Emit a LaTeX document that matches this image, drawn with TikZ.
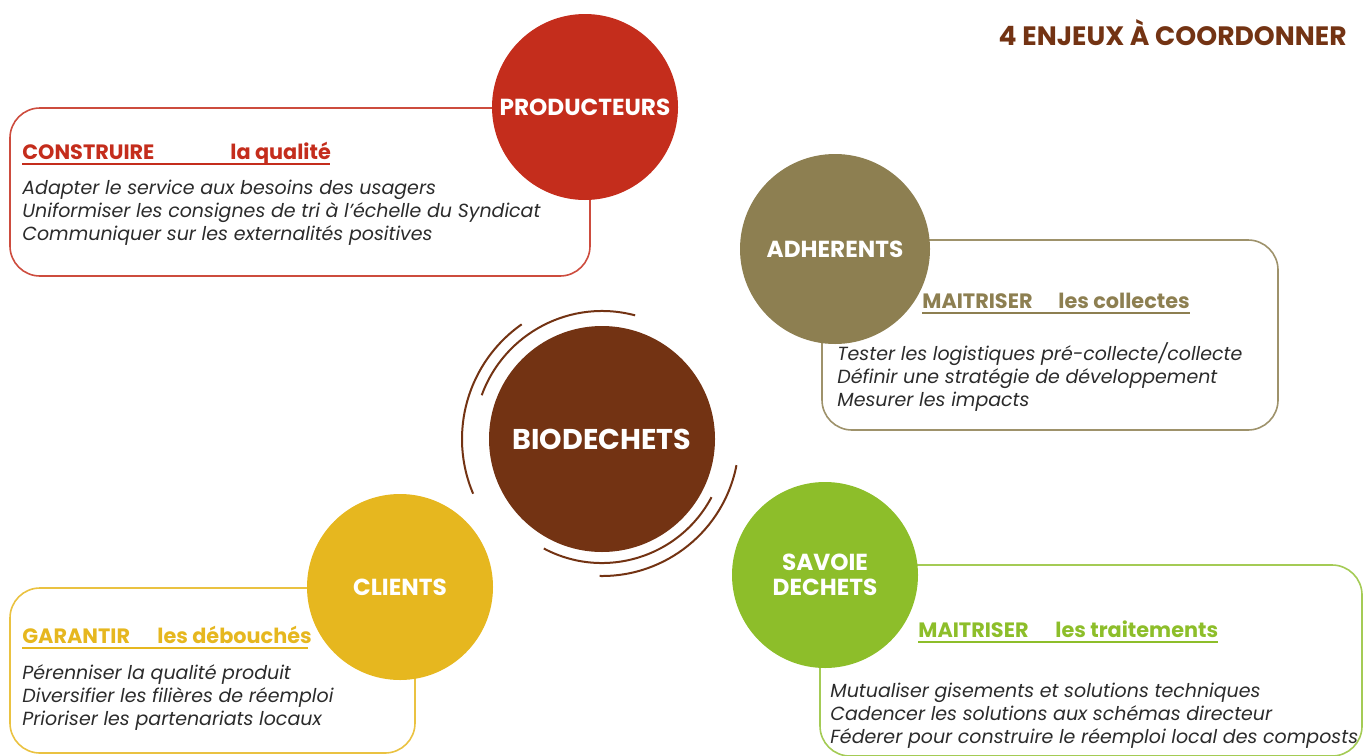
\documentclass[tikz,border=0pt]{standalone}
\usepackage{fontspec}
\setmainfont{Poppins}
\definecolor{prodred}{HTML}{C42D1C}
\definecolor{adhgold}{HTML}{8D7F51}
\definecolor{biobrown}{HTML}{733313}
\definecolor{cliyellow}{HTML}{E6B71F}
\definecolor{savgreen}{HTML}{8DBE2A}
\definecolor{textgrey}{HTML}{2B2B2B}
\begin{document}
\begin{tikzpicture}[x=0.5pt,y=-0.5pt,
	disc/.style={circle,fill=#1,text=white,inner sep=0pt,minimum size=93pt,align=center,
		font=\fontsize{11.6}{13.5}\selectfont\bfseries},
	cadre/.style={draw=#1,line width=0.8pt,rounded corners=15pt},
	titre/.style={anchor=base west,inner sep=0pt,text=#1,font=\fontsize{10.4}{12}\selectfont\bfseries},
	texte/.style={anchor=base west,inner sep=0pt,text=textgrey,align=left,
		font=\fontsize{9.5}{11.5}\selectfont\itshape}]
		\useasboundingbox (0,0) rectangle (1363,755);
		%Cadres
		\draw[cadre=prodred!85] (10,108) rectangle (590,276);
		\draw[cadre=adhgold!85] (822,240) rectangle (1278,430);
		\draw[cadre=cliyellow!85] (10,588) rectangle (415,753);
		\draw[cadre=savgreen!80] (820,565) rectangle (1362,756);
		%Disques
		\node[disc=prodred] (prod) at (585,107) {PRODUCTEURS};
		\node[disc=adhgold,minimum size=95pt] (adh) at (835,249) {ADHERENTS};
		\node[disc=cliyellow] (cli) at (400,587) {CLIENTS};
		\node[disc=savgreen] (sav) at (825,575) {SAVOIE\\[-1pt]DECHETS};
		\node[disc=biobrown,minimum size=113pt,font=\fontsize{14.3}{16}\selectfont\bfseries] (bio) at (602,439) {BIODECHETS};
		\draw[biobrown,line width=1pt] (bio.center) ++(-125:140) arc[start angle=-125,end angle=-203,radius=140];
		\draw[biobrown,line width=1pt] (bio.center) ++(-75:128) arc[start angle=-75,end angle=-160,radius=128];
		\draw[biobrown,line width=1pt] (bio.center) ++(11:137) arc[start angle=11,end angle=91,radius=137];
		\draw[biobrown,line width=1pt] (bio.center) ++(28:124) arc[start angle=28,end angle=118,radius=124];
		\node[anchor=base east,inner sep=0pt,text=biobrown,font=\fontsize{13.3}{15}\selectfont\bfseries]
			(enjeux) at (1347,45) {4 ENJEUX À COORDONNER};
		%Producteurs
		\node[titre=prodred] (prodA) at (22,159) {CONSTRUIRE};
		\node[titre=prodred] (prodB) at (230,159) {la qualité};
		\draw[prodred,line width=0.8pt] ([yshift=-2.5pt]prodA.base west) -- ([yshift=-2.5pt]prodB.base west -| 330,0);
		\node[texte] (prodT) at (22,240) {Adapter le service aux besoins des usagers\\
			Uniformiser les consignes de tri à l’échelle du Syndicat\\
			Communiquer sur les externalités positives};
		%Adherents
		\node[titre=adhgold] (adhA) at (922,308) {MAITRISER};
		\node[titre=adhgold] (adhB) at (1058,308) {les collectes};
		\draw[adhgold,line width=0.8pt] ([yshift=-2.5pt]adhA.base west) -- ([yshift=-2.5pt]adhB.base west -| 1190,0);
		\node[texte] (adhT) at (837,406) {Tester les logistiques pré-collecte/collecte\\
			Définir une stratégie de développement\\
			Mesurer les impacts};
		%Clients
		\node[titre=cliyellow] (cliA) at (22,643) {GARANTIR};
		\node[titre=cliyellow] (cliB) at (157,643) {les débouchés};
		\draw[cliyellow,line width=0.8pt] ([yshift=-2.5pt]cliA.base west) -- ([yshift=-2.5pt]cliB.base west -| 308,0);
		\node[texte] (cliT) at (22,725) {Pérenniser la qualité produit\\
			Diversifier les filières de réemploi\\
			Prioriser les partenariats locaux};
		%Savoie dechets
		\node[titre=savgreen] (savA) at (918,637) {MAITRISER};
		\node[titre=savgreen] (savB) at (1055,637) {les traitements};
		\draw[savgreen,line width=0.8pt] ([yshift=-2.5pt]savA.base west) -- ([yshift=-2.5pt]savB.base west -| 1218,0);
		\node[texte] (savT) at (830,743) {Mutualiser gisements et solutions techniques\\
			Cadencer les solutions aux schémas directeur\\
			Féderer pour construire le réemploi local des composts};
\end{tikzpicture}
\end{document}
